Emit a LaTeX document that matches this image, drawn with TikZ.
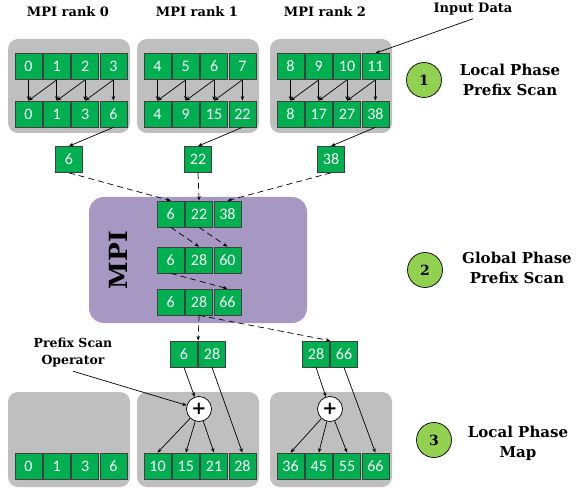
\documentclass[tikz,border=0pt]{standalone}
\usepackage{fontspec}
\setmainfont{DejaVu Serif}
\newfontfamily\cellfont{Carlito}
\usetikzlibrary{arrows.meta}

\definecolor{cellgreen}{HTML}{00B050}
\definecolor{panelgray}{HTML}{BFBFBF}
\definecolor{mpipurple}{HTML}{A698C2}
\definecolor{phasegreen}{HTML}{92D050}

\tikzset{
  cell/.style={draw=black!75, fill=cellgreen, text=white, minimum width=27pt,
    minimum height=26pt, inner sep=0pt, font=\cellfont\fontsize{16}{16}\selectfont},
  panel/.style={fill=panelgray, rounded corners=10pt, minimum width=122pt, inner sep=0pt},
  phase/.style={circle, draw, fill=phasegreen, minimum size=35pt, inner sep=0pt,
    font=\bfseries\fontsize{14}{14}\selectfont},
  phasetext/.style={align=center, font=\bfseries\fontsize{15}{20}\selectfont},
  title/.style={font=\bfseries\fontsize{13}{13}\selectfont},
  link/.style={->, dash pattern=on 6pt off 4pt},
  op/.style={circle, draw, fill=white, minimum size=25pt, inner sep=0pt,
    font=\bfseries\fontsize{18}{18}\selectfont},
}

\begin{document}
\begin{tikzpicture}[x=1pt, y=-1pt, line width=0.7pt, >={Stealth[length=4.5pt,width=3.5pt]}]
  \useasboundingbox (0,0) rectangle (576,489);

  % rank titles
  \node[title] (rank0) at (68,12)  {MPI rank 0};
  \node[title] (rank1) at (197,12) {MPI rank 1};
  \node[title] (rank2) at (325,12) {MPI rank 2};

  % local phase: prefix scan in each rank
  \foreach \r/\g/\ins/\outs in {0/8/{0,1,2,3}/{0,1,3,6}, 1/137/{4,5,6,7}/{4,9,15,22}, 2/270/{8,9,10,11}/{8,17,27,38}} {
    \node[panel, minimum height=94pt] (top\r) at (\g+61,86) {};
    \foreach \v [count=\k from 0] in \ins
      \node[cell] (in\r-\k) at (\g+20.5+28.3*\k,66.5) {\v};
    \foreach \v [count=\k from 0] in \outs
      \node[cell] (out\r-\k) at (\g+20.5+28.3*\k,114) {\v};
    \foreach \k in {0,...,3}
      \draw[->] (in\r-\k.south) -- (out\r-\k.north);
    \foreach \k [evaluate=\k as \kk using int(\k-1)] in {1,2,3}
      \draw[->] (in\r-\k.south) -- (out\r-\kk.north);
  }
  \node[cell] (carry0) at (69,159.5)  {6};
  \node[cell] (carry1) at (198,159.5) {22};
  \node[cell] (carry2) at (331,159.5) {38};
  \foreach \r in {0,1,2}
    \draw[->] (out\r-3.south) -- (carry\r.north);

  % input data
  \node[title] (input) at (473,9) {Input Data};
  \draw[->] (input.south) -- (in2-3.north);

  % global phase
  \node[fill=mpipurple, rounded corners=15pt, minimum width=218pt, minimum height=126pt] (mpi) at (198,260) {};
  \node[rotate=90, font=\bfseries\fontsize{25}{25}\selectfont] (mpilabel) at (118,260) {MPI};
  \foreach \row/\y/\vals in {1/214/{6,22,38}, 2/260/{6,28,60}, 3/302/{6,28,66}}
    \foreach \v [count=\k from 0] in \vals
      \node[cell] (g\row-\k) at (170.8+28.3*\k,\y) {\v};
  \foreach \r in {0,1,2}
    \draw[link] (carry\r.south) -- (g1-\r.north);
  \draw[link] (g1-0.south) -- (g2-1.north);
  \draw[link] (g1-1.south) -- (g2-2.north);
  \draw[link] (g2-0.south) -- (g3-2.north);

  % local phase: map
  \foreach \r/\g/\vals in {0/8/{0,1,3,6}, 1/137/{10,15,21,28}, 2/270/{36,45,55,66}} {
    \node[panel, minimum height=95pt] (bot\r) at (\g+61,439.5) {};
    \foreach \v [count=\k from 0] in \vals
      \node[cell] (b\r-\k) at (\g+20.5+28.3*\k,466) {\v};
  }
  \node[cell] (pa0) at (184,354) {6};
  \node[cell] (pa1) at (212,354) {28};
  \node[cell] (pb0) at (316,354) {28};
  \node[cell] (pb1) at (344,354) {66};
  \draw[link] (g3-1.south) -- (pa1.north west);
  \draw[link] (g3-1.south) -- (pb1.north west);

  \node[op] (op1) at (199,409) {+};
  \node[op] (op2) at (330,409) {+};
  \draw[->] (pa0.south) -- (op1);
  \draw[->] (pa1.south) -- (b1-3.north);
  \draw[->] (pb0.south) -- (op2);
  \draw[->] (pb1.south) -- (b2-3.north);
  \foreach \k in {0,1,2} {
    \draw[->] (op1) -- (b1-\k.north);
    \draw[->] (op2) -- (b2-\k.north);
  }
  \node[align=center, font=\bfseries\fontsize{12.5}{17}\selectfont] (oplabel) at (73,353) {Prefix Scan\\Operator};
  \draw[->] (oplabel.south) -- (op1);

  % phase labels
  \node[phase] (ph1) at (424,80)  {1};
  \node[phase] (ph2) at (425,270) {2};
  \node[phase] (ph3) at (434,440) {3};
  \node[phasetext] (phlab1) at (510,80)  {Local Phase\\Prefix Scan};
  \node[phasetext] (phlab2) at (517,268) {Global Phase\\Prefix Scan};
  \node[phasetext] (phlab3) at (518,443) {Local Phase\\Map};
\end{tikzpicture}
\end{document}
